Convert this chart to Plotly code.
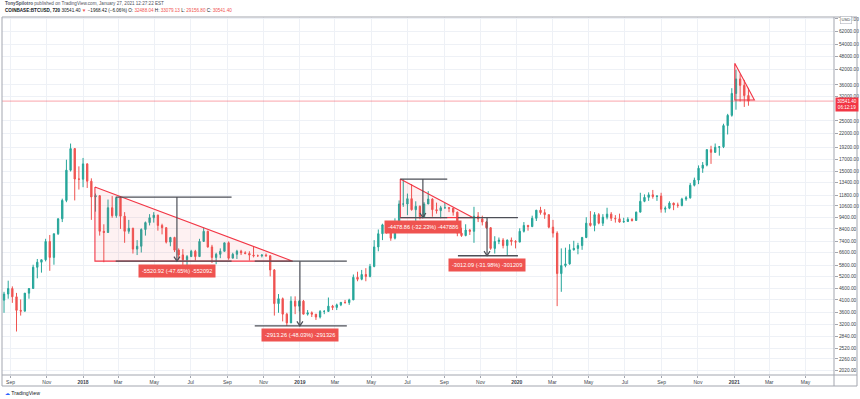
import math
from datetime import date, timedelta
import plotly.graph_objects as go

# ---------------- data (weekly OHLC, COINBASE:BTCUSD) ----------------
week_start = [
    # 2017
    "2017-08-07", "2017-08-14", "2017-08-21", "2017-08-28", "2017-09-04", "2017-09-11", "2017-09-18",
    "2017-09-25", "2017-10-02", "2017-10-09", "2017-10-16", "2017-10-23", "2017-10-30", "2017-11-06",
    "2017-11-13", "2017-11-20", "2017-11-27", "2017-12-04", "2017-12-11", "2017-12-18", "2017-12-25",
    # 2018
    "2018-01-01", "2018-01-08", "2018-01-15", "2018-01-22", "2018-01-29", "2018-02-05", "2018-02-12",
    "2018-02-19", "2018-02-26", "2018-03-05", "2018-03-12", "2018-03-19", "2018-03-26", "2018-04-02",
    "2018-04-09", "2018-04-16", "2018-04-23", "2018-04-30", "2018-05-07", "2018-05-14", "2018-05-21",
    "2018-05-28", "2018-06-04", "2018-06-11", "2018-06-18", "2018-06-25", "2018-07-02", "2018-07-09",
    "2018-07-16", "2018-07-23", "2018-07-30", "2018-08-06", "2018-08-13", "2018-08-20", "2018-08-27",
    "2018-09-03", "2018-09-10", "2018-09-17", "2018-09-24", "2018-10-01", "2018-10-08", "2018-10-15",
    "2018-10-22", "2018-10-29", "2018-11-05", "2018-11-12", "2018-11-19", "2018-11-26", "2018-12-03",
    "2018-12-10", "2018-12-17", "2018-12-24", "2018-12-31",
    # 2019
    "2019-01-07", "2019-01-14", "2019-01-21", "2019-01-28", "2019-02-04", "2019-02-11", "2019-02-18",
    "2019-02-25", "2019-03-04", "2019-03-11", "2019-03-18", "2019-03-25", "2019-04-01", "2019-04-08",
    "2019-04-15", "2019-04-22", "2019-04-29", "2019-05-06", "2019-05-13", "2019-05-20", "2019-05-27",
    "2019-06-03", "2019-06-10", "2019-06-17", "2019-06-24", "2019-07-01", "2019-07-08", "2019-07-15",
    "2019-07-22", "2019-07-29", "2019-08-05", "2019-08-12", "2019-08-19", "2019-08-26", "2019-09-02",
    "2019-09-09", "2019-09-16", "2019-09-23", "2019-09-30", "2019-10-07", "2019-10-14", "2019-10-21",
    "2019-10-28", "2019-11-04", "2019-11-11", "2019-11-18", "2019-11-25", "2019-12-02", "2019-12-09",
    "2019-12-16", "2019-12-23", "2019-12-30",
    # 2020
    "2020-01-06", "2020-01-13", "2020-01-20", "2020-01-27", "2020-02-03", "2020-02-10", "2020-02-17",
    "2020-02-24", "2020-03-02", "2020-03-09", "2020-03-16", "2020-03-23", "2020-03-30", "2020-04-06",
    "2020-04-13", "2020-04-20", "2020-04-27", "2020-05-04", "2020-05-11", "2020-05-18", "2020-05-25",
    "2020-06-01", "2020-06-08", "2020-06-15", "2020-06-22", "2020-06-29", "2020-07-06", "2020-07-13",
    "2020-07-20", "2020-07-27", "2020-08-03", "2020-08-10", "2020-08-17", "2020-08-24", "2020-08-31",
    "2020-09-07", "2020-09-14", "2020-09-21", "2020-09-28", "2020-10-05", "2020-10-12", "2020-10-19",
    "2020-10-26", "2020-11-02", "2020-11-09", "2020-11-16", "2020-11-23", "2020-11-30", "2020-12-07",
    "2020-12-14", "2020-12-21", "2020-12-28",
    # 2021
    "2021-01-04", "2021-01-11", "2021-01-18", "2021-01-25",
]

open_ = [
    3380, 4160, 4090, 4350, 4600, 4230, 3690, 3660, 4390, 4600, 5700, 6000, 6150, 7400, 6300, 8000, 9300,
    11200, 15200, 18900, 13900,
    13880, 16200, 13600, 11600, 11750, 8200, 8100, 10400, 9600, 11500, 9550, 8200, 8450, 6850, 7050, 8350,
    8950, 9400, 9650, 8700, 8500, 7350, 7700, 6780, 6460, 6150, 6350, 6700, 6350, 7400, 8200, 7000, 6300,
    6500, 6700, 7300, 6250, 6500, 6700, 6600, 6550, 6450, 6400, 6400, 6450, 6400, 5550, 3950, 4150, 3550,
    3250, 4050, 3850,
    4050, 3550, 3600, 3550, 3450, 3650, 3650, 3850, 3800, 3900, 4000, 3990, 4100, 5150, 5050, 5300, 5200,
    5750, 7000, 8000, 8750, 8700, 7650, 8950, 10800, 10800, 11400, 10200, 10550, 9500, 10800, 11350, 10200,
    10100, 10400, 10400, 10350, 9950, 8050, 7850, 8300, 8200, 9550, 9300, 9000, 8500, 6900, 7400, 7500,
    7100, 7500, 7400,
    7350, 8200, 8700, 8600, 9350, 10150, 9900, 9700, 8550, 8050, 5350, 5800, 5900, 6800, 6900, 7100, 7700,
    8900, 8700, 9700, 8900, 9450, 9750, 9350, 9300, 9000, 9050, 9250, 9150, 9950, 11100, 11550, 11850,
    11650, 11700, 10250, 10350, 10900, 10700, 10650, 11350, 11500, 13050, 13750, 15500, 16000, 18700,
    18200, 19150, 19250, 23850, 26450,
    33000, 38200, 35800, 32300,
]

high = [
    4200, 4480, 4450, 4980, 4700, 4400, 4120, 4380, 4620, 5850, 6200, 6150, 7600, 7900, 8000, 9350, 11400,
    16900, 19891, 19000, 15800,
    17200, 16300, 14000, 12000, 11800, 8800, 11300, 11700, 11600, 11700, 9950, 9200, 8500, 7500, 8450, 9050,
    9750, 9950, 9700, 8850, 8550, 7750, 7760, 6900, 6850, 6450, 6800, 6800, 7600, 8500, 8250, 7150, 6600,
    6900, 7300, 7400, 6600, 6800, 6800, 6700, 6700, 7000, 6480, 6500, 6550, 6450, 5600, 4350, 4200, 3600,
    4250, 4250, 4100,
    4100, 3700, 3650, 3550, 3700, 3700, 4200, 3900, 3950, 4000, 4100, 4150, 5300, 5450, 5550, 5650, 5900,
    7500, 8350, 8850, 9100, 8750, 9350, 11200, 13880, 12000, 13200, 11100, 10650, 11000, 12300, 11450,
    10950, 10600, 10950, 10450, 10350, 10000, 8500, 8800, 8400, 10500, 9950, 9600, 9100, 8550, 7800, 7700,
    7650, 7550, 7700, 7500,
    8450, 9000, 8750, 9600, 10150, 10500, 10250, 9700, 9200, 8200, 6900, 6950, 7200, 7450, 7300, 7750,
    9450, 10050, 9950, 9850, 9750, 10400, 9950, 9650, 9800, 9400, 9450, 9350, 10000, 12100, 11900, 12150,
    12450, 11800, 12100, 10550, 11100, 10950, 10950, 11500, 11700, 13350, 14100, 15950, 16500, 18800,
    19450, 19900, 19400, 24300, 26850, 34800,
    41950, 40100, 37850, 34900,
]

low = [
    3230, 3950, 3600, 4150, 3980, 2980, 3500, 3650, 4150, 4600, 5100, 5400, 6050, 5500, 5850, 7900, 9000,
    11000, 15000, 11200, 12500,
    12800, 12700, 9200, 10000, 7850, 6000, 8100, 9400, 9400, 8400, 7300, 8000, 6550, 6450, 6620, 7850,
    8700, 8950, 8250, 7950, 7250, 7050, 6650, 6150, 5750, 5800, 6350, 6100, 6350, 7400, 6950, 5950, 5880,
    6250, 6700, 6150, 6250, 6200, 6450, 6500, 6100, 6300, 6350, 6300, 6350, 5200, 3500, 3600, 3300, 3150,
    3250, 3550, 3650,
    3550, 3500, 3450, 3350, 3400, 3550, 3650, 3700, 3700, 3850, 3950, 3900, 4100, 4950, 5000, 4950, 5150,
    5700, 6700, 7500, 8000, 7450, 7550, 8950, 10500, 9650, 10100, 9100, 9250, 9400, 10800, 9500, 9800,
    9350, 10300, 9950, 9600, 7800, 7750, 7800, 7900, 7300, 9000, 8700, 8400, 6800, 6550, 7200, 6900, 6450,
    7100, 6900,
    7350, 8100, 8250, 8550, 9100, 9700, 9300, 8450, 7700, 3850, 4450, 5700, 5850, 6750, 6500, 6800, 7650,
    8600, 8200, 8800, 8650, 9250, 9100, 8950, 8950, 8950, 9050, 9050, 9100, 9950, 11000, 11150, 11400,
    11150, 9900, 9900, 10250, 10150, 10400, 10550, 11150, 11400, 12900, 13200, 14800, 15800, 16200, 18100,
    17600, 19000, 21800, 26100,
    28000, 30400, 28800, 29150,
]

close = [
    4160, 4090, 4350, 4600, 4230, 3690, 3660, 4390, 4600, 5700, 6000, 6150, 7400, 6300, 8000, 9300, 11200,
    15200, 18900, 13900, 13880,
    16200, 13600, 11600, 11750, 8200, 8100, 10400, 9600, 11500, 9550, 8200, 8450, 6850, 7050, 8350, 8950,
    9400, 9650, 8700, 8500, 7350, 7700, 6780, 6460, 6150, 6350, 6700, 6350, 7400, 8200, 7000, 6300, 6500,
    6700, 7300, 6250, 6500, 6700, 6600, 6550, 6450, 6400, 6400, 6450, 6400, 5550, 3950, 4150, 3550, 3250,
    4050, 3850, 4050,
    3550, 3600, 3550, 3450, 3650, 3650, 3850, 3800, 3900, 4000, 3990, 4100, 5150, 5050, 5300, 5200, 5750,
    7000, 8000, 8750, 8700, 7650, 8950, 10800, 10800, 11400, 10200, 10550, 9500, 10800, 11350, 10200,
    10100, 10400, 10400, 10350, 9950, 8050, 7850, 8300, 8200, 9550, 9300, 9000, 8500, 6900, 7400, 7500,
    7100, 7500, 7400, 7350,
    8200, 8700, 8600, 9350, 10150, 9900, 9700, 8550, 8050, 5350, 5800, 5900, 6800, 6900, 7100, 7700, 8900,
    8700, 9700, 8900, 9450, 9750, 9350, 9300, 9000, 9050, 9250, 9150, 9950, 11100, 11550, 11850, 11650,
    11700, 10250, 10350, 10900, 10700, 10650, 11350, 11500, 13050, 13750, 15500, 16000, 18700, 18200,
    19150, 19250, 23850, 26450, 33000,
    38200, 35800, 32300, 30541.40,
]

last_price = 30541.40

x_tick_dates = [
    "2017-09-01", "2017-11-01", "2018-01-01", "2018-03-01", "2018-05-01", "2018-07-01", "2018-09-01",
    "2018-11-01", "2019-01-01", "2019-03-01", "2019-05-01", "2019-07-01", "2019-09-01", "2019-11-01",
    "2020-01-01", "2020-03-01", "2020-05-01", "2020-07-01", "2020-09-01", "2020-11-01", "2021-01-01",
    "2021-03-01", "2021-05-01",
]
x_tick_text = [
    "Sep", "Nov", "<b>2018</b>", "Mar", "May", "Jul", "Sep", "Nov", "<b>2019</b>", "Mar", "May", "Jul",
    "Sep", "Nov", "<b>2020</b>", "Mar", "May", "Jul", "Sep", "Nov", "<b>2021</b>", "Mar", "May",
]
y_tick_values = [
    2020, 2260, 2520, 2840, 3200, 3600, 4100, 4600, 5200, 5800, 6600, 7400, 8400, 9400, 10600, 11800,
    13400, 15000, 17000, 19200, 22000, 25000, 32000, 36000, 42000, 48000, 54000, 62000, 70000,
]

# drawings (triangles, measurement tools)
tri_left = ["2018-01-21", "2019-06-19", "2021-01-02"]
tri_right = ["2018-12-20", "2019-10-19", "2021-02-04"]
tri_top = [12830, 13896.5, 44800]
tri_base = [6065.5, 9417.6, 30900]

measure_left = ["2018-02-25", "2018-10-17", "2019-06-19", "2019-09-24"]
measure_right = ["2018-09-08", "2019-03-21", "2019-09-06", "2020-01-03"]
measure_mid = ["2018-06-08", "2019-01-01", "2019-07-27", "2019-11-12"]
measure_from = [11586.4, 6065.5, 13896.5, 9417.6]
measure_to = [6065.5, 3152.2, 9417.6, 6405.5]
measure_text = [
    "-5520.92 (-47.65%) -552092",
    "-2913.26 (-48.03%) -291326",
    "-4478.86 (-32.23%) -447886",
    "-3012.09 (-31.98%) -301209",
]

assert len(week_start) == len(open_) == len(high) == len(low) == len(close)

# ---------------- style ----------------
W, H = 860, 399
ML, MR, MT, MB = 2, 26, 17, 24
UP = "#26a69a"
DOWN = "#ef5350"
RED = "#f23645"
LBL = "#ef5350"
GRID = "#eef1f6"
FRAME = "#a3a6af"
TXT = "#3b3f4a"
FONT = "Liberation Sans, Arial, sans-serif"
x_range = ["2017-08-17 14:00", "2021-06-18"]
y_range = [3.2834, 4.8538]
HEAD_DAYS = 5          # arrowhead half-width (days)
HEAD_RATIO = 1.047     # arrowhead height (price ratio)


def px(x):
    return (x - ML) / (W - ML - MR)


def py(y):
    return (H - MB - y) / (H - MT - MB)


def shift(d, days):
    return (date.fromisoformat(d) + timedelta(days=days)).isoformat()


fig = go.Figure()

fig.add_trace(go.Candlestick(
    x=week_start, open=open_, high=high, low=low, close=close,
    increasing=dict(line=dict(color=UP, width=1), fillcolor=UP),
    decreasing=dict(line=dict(color=DOWN, width=1), fillcolor=DOWN),
    whiskerwidth=0, hoverinfo="skip", showlegend=False,
))

# current price line
fig.add_trace(go.Scatter(
    x=x_range, y=[last_price, last_price], mode="lines",
    line=dict(color="rgba(242,54,69,0.45)", width=1), hoverinfo="skip", showlegend=False,
))

# triangles
for a, b, t, base in zip(tri_left, tri_right, tri_top, tri_base):
    fig.add_trace(go.Scatter(
        x=[a, a, b, a], y=[t, base, base, t], mode="lines", fill="toself",
        fillcolor="rgba(242,54,69,0.07)", line=dict(color=RED, width=1.1),
        hoverinfo="skip", showlegend=False,
    ))

# measurement tools
MC = "#4d4f57"
for a, b, m, p0, p1 in zip(measure_left, measure_right, measure_mid, measure_from, measure_to):
    for p in (p0, p1):
        fig.add_trace(go.Scatter(x=[a, b], y=[p, p], mode="lines",
                                 line=dict(color=MC, width=1.3), hoverinfo="skip", showlegend=False))
    fig.add_trace(go.Scatter(x=[m, m], y=[p0, p1], mode="lines",
                             line=dict(color=MC, width=1.2), hoverinfo="skip", showlegend=False))
    # open "V" arrowhead at the end price
    fig.add_trace(go.Scatter(
        x=[shift(m, -HEAD_DAYS), m, shift(m, HEAD_DAYS)],
        y=[p1 * HEAD_RATIO, p1, p1 * HEAD_RATIO], mode="lines",
        line=dict(color=MC, width=1.2), hoverinfo="skip", showlegend=False,
    ))

annotations = []
for m, p1, txt in zip(measure_mid, measure_to, measure_text):
    annotations.append(dict(
        x=m, y=math.log10(p1), xref="x", yref="y", text=txt, showarrow=False,
        bgcolor=LBL, font=dict(color="white", size=5.6, family=FONT), borderpad=3,
        yanchor="middle", yshift=-9.5,
    ))

# header
annotations.append(dict(
    x=px(3), y=py(4), xref="paper", yref="paper", xanchor="left", yanchor="middle", showarrow=False,
    text="<b>TonySpilotro</b> published on TradingView.com, January 27, 2021 12:27:22 EST",
    font=dict(size=4.6, color="#50535e", family=FONT),
))
annotations.append(dict(
    x=px(3), y=py(10.5), xref="paper", yref="paper", xanchor="left", yanchor="middle", showarrow=False,
    text=("<b>COINBASE:BTCUSD, 720</b> 30541.40 <span style='color:#ef5350'>▼</span> −1968.42 (−6.06%) "
          "O: <span style='color:#ef5350'>32488.04</span> H: <span style='color:#ef5350'>33079.13</span> "
          "L: <span style='color:#ef5350'>29156.80</span> C: <span style='color:#ef5350'>30541.40</span>"),
    font=dict(size=4.6, color="#131722", family=FONT),
))

# price tag on the axis
annotations.append(dict(
    x=px(835), y=math.log10(last_price), xref="paper", yref="y", xanchor="left", yanchor="middle",
    yshift=-3.5, showarrow=False, text="30541.40<br>06:12:19", align="center",
    bgcolor=RED, font=dict(color="white", size=4.6, family=FONT), borderpad=1.2,
))
# USD badge
annotations.append(dict(
    x=px(845.5), y=py(20.5), xref="paper", yref="paper", xanchor="center", yanchor="middle",
    showarrow=False, text="USD", bgcolor="white", bordercolor="#b2b5be", borderwidth=0.6,
    font=dict(color=TXT, size=4.2, family=FONT), borderpad=0.8,
))
# TradingView logo
annotations.append(dict(
    x=px(3), y=py(393), xref="paper", yref="paper", xanchor="left", yanchor="middle", showarrow=False,
    text="<span style='color:#2962ff'>☁</span> TradingView", font=dict(color="#131722", size=5.2, family=FONT),
))

shapes = [
    dict(type="rect", xref="paper", yref="paper", x0=px(2), x1=px(857), y0=py(386), y1=py(17),
         line=dict(color=FRAME, width=1)),
    dict(type="line", xref="paper", yref="paper", x0=px(834), x1=px(834), y0=py(386), y1=py(17),
         line=dict(color=FRAME, width=1)),
    dict(type="line", xref="paper", yref="paper", x0=px(2), x1=px(857), y0=py(375), y1=py(375),
         line=dict(color=FRAME, width=1)),
]

fig.update_layout(
    width=W, height=H, margin=dict(l=ML, r=MR, t=MT, b=MB, pad=0),
    plot_bgcolor="white", paper_bgcolor="white", showlegend=False,
    font=dict(family=FONT, color=TXT), boxgap=0.55,
    annotations=annotations, shapes=shapes,
    xaxis=dict(
        type="date", range=x_range, tickvals=x_tick_dates, ticktext=x_tick_text,
        tickfont=dict(size=5, color=TXT), showgrid=True, gridcolor=GRID, gridwidth=1,
        ticks="outside", ticklen=2, tickcolor=FRAME, showline=False, zeroline=False,
        rangeslider=dict(visible=False), fixedrange=True, automargin=False,
    ),
    yaxis=dict(
        type="log", range=y_range, side="right", tickvals=y_tick_values, tickformat=".2f",
        tickfont=dict(size=4.8, color=TXT), showgrid=True, gridcolor=GRID, gridwidth=1,
        ticks="outside", ticklen=3, tickcolor=FRAME, showline=False, zeroline=False,
        fixedrange=True, automargin=False,
    ),
)

fig.write_html(
    "out.html",
    config={"displayModeBar": False},
    post_script="document.body.style.margin='0';document.body.style.padding='0';",
)
